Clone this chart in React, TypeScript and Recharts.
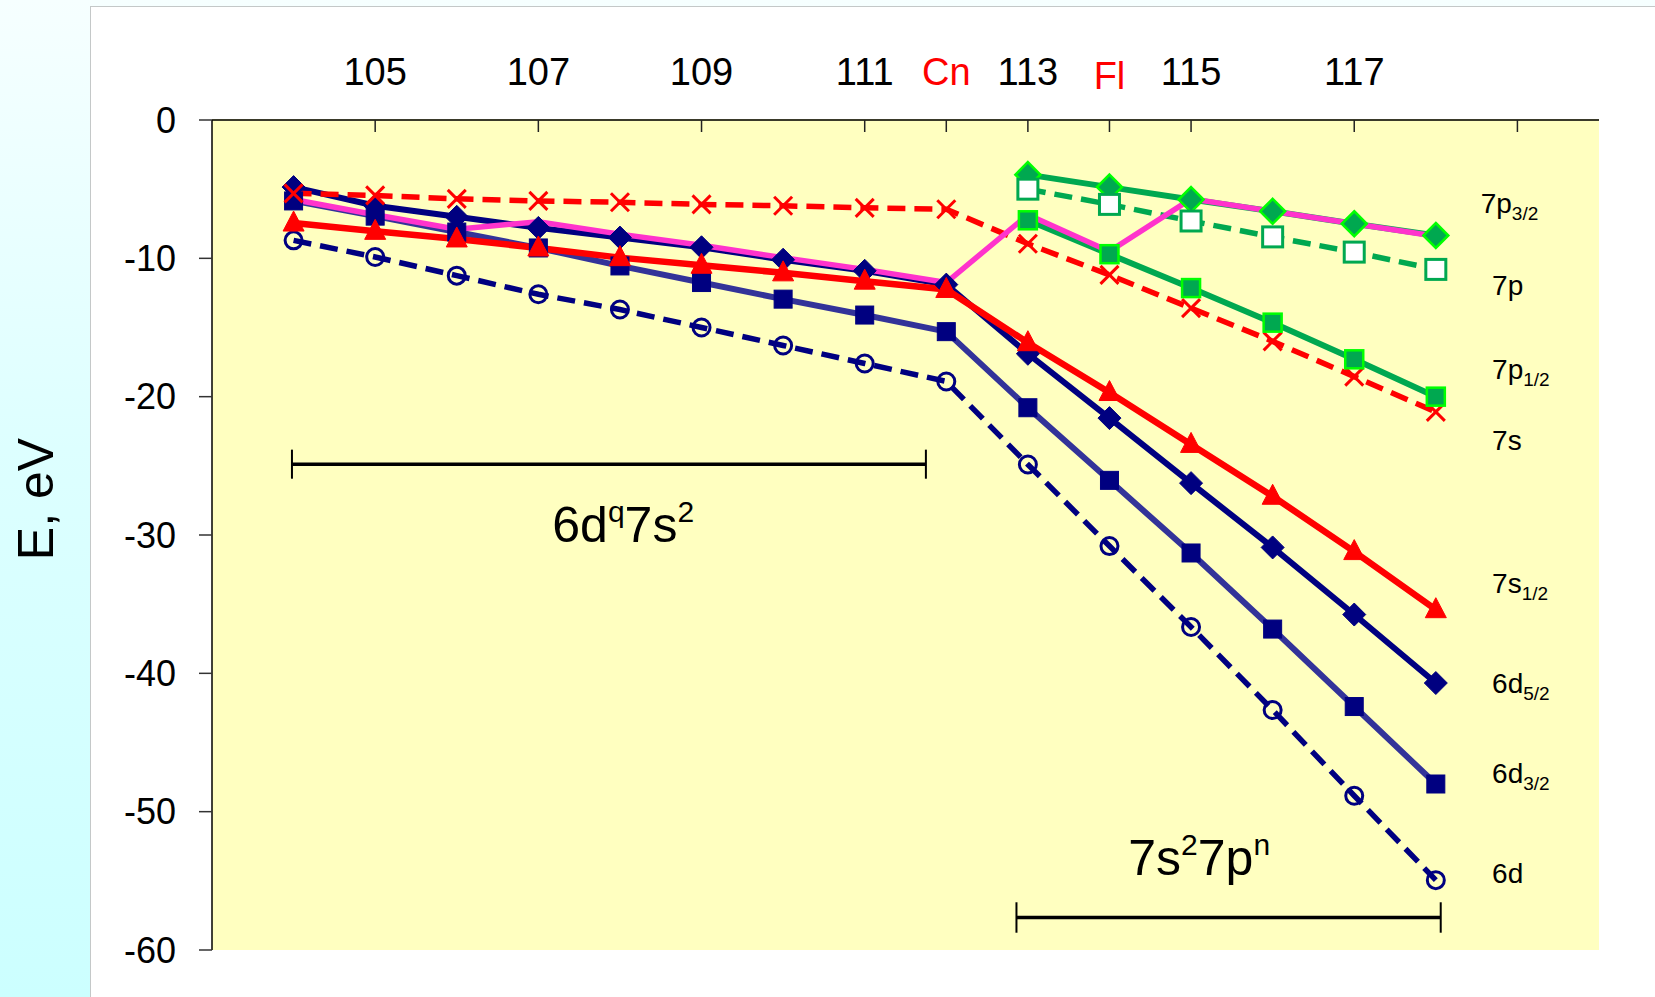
import React from 'react';
import { LineChart, Line, XAxis, YAxis, CartesianGrid, ReferenceLine, ReferenceDot } from 'recharts';

const FONT = '"Liberation Sans", Arial, Helvetica, sans-serif';

// Atomic number Z (categories)
const elementZ = [104, 105, 106, 107, 108, 109, 110, 111, 112, 113, 114, 115, 116, 117, 118];

// Orbital energies, eV
const e6d = [-8.7, -9.9, -11.25, -12.6, -13.7, -15.0, -16.3, -17.6, -18.9, -24.9, -30.8, -36.65, -42.65, -48.85, -54.95];
const e6d32 = [-5.85, -6.95, -8.1, -9.25, -10.55, -11.75, -12.95, -14.1, -15.3, -20.8, -26.05, -31.3, -36.8, -42.4, -48.0];
const e6d52 = [-4.85, -6.2, -7.0, -7.8, -8.5, -9.2, -10.1, -10.9, -11.9, -16.9, -21.55, -26.25, -30.9, -35.75, -40.7];
const e7s12 = [-7.45, -8.05, -8.6, -9.25, -9.95, -10.5, -11.05, -11.65, -12.25, -16.1, -19.7, -23.45, -27.2, -31.2, -35.4];
const e7s = [-5.3, -5.45, -5.7, -5.85, -5.95, -6.1, -6.2, -6.35, -6.45, -8.95, -11.2, -13.6, -16.0, -18.55, -21.1];
const e7p12 = [null, null, null, null, null, null, null, null, null, -7.25, -9.7, -12.15, -14.65, -17.3, -20.0];
const e7p = [null, null, null, null, null, null, null, null, null, -5.0, -6.1, -7.3, -8.45, -9.55, -10.8];
const e7p32 = [null, null, null, null, null, null, null, null, null, -3.95, -4.85, -5.75, -6.6, -7.5, -8.35];
const eValence = [-5.75, -6.85, -7.9, -7.35, -8.25, -9.05, -9.95, -10.8, -11.75, -6.85, -9.5, -5.7, -6.6, -7.5, -8.4];

// Axis ticks
const xTicks = [105, 107, 109, 111, 112, 113, 114, 115, 117, 119];
const xTickLabels = ['105', '107', '109', '111', 'Cn', '113', 'Fl', '115', '117', ''];
const xRedLabels = ['Cn', 'Fl'];
const yTicks = [0, -10, -20, -30, -40, -50, -60];

// Series labels at right side
const seriesLabelMain = ['7p', '7p', '7p', '7s', '7s', '6d', '6d', '6d'];
const seriesLabelSub = ['3/2', '', '1/2', '', '1/2', '5/2', '3/2', ''];
const seriesLabelX = [118.55, 118.69, 118.69, 118.69, 118.69, 118.69, 118.69, 118.69];
const seriesLabelY = [-6.7, -12.65, -18.73, -23.84, -34.2, -41.43, -47.9, -55.17];

// Configuration brackets
const bracket1 = { x1: 103.98, x2: 111.75, y: -24.88, tick: 1.05, textX: 108.04, textY: -30.47 };
const bracket2 = { x1: 112.86, x2: 118.06, y: -57.65, tick: 1.1, textX: 115.1, textY: -54.6 };

const rows = elementZ.map((z, i) => ({
  z,
  e6d: e6d[i],
  e6d32: e6d32[i],
  e6d52: e6d52[i],
  e7s12: e7s12[i],
  e7s: e7s[i],
  e7p12: e7p12[i],
  e7p: e7p[i],
  e7p32: e7p32[i],
  eValence: eValence[i],
}));

const PLOT_TOP = 120;

const NAVY = '#000080';
const INDIGO = '#333399';
const RED = '#FF0000';
const GREEN = '#00A850';
const LIME = '#00FF00';
const MAGENTA = '#FF33CC';

const valid = (p: any) =>
  p && typeof p.cx === 'number' && typeof p.cy === 'number' && isFinite(p.cx) && isFinite(p.cy) && p.value != null;

const makeDot = (kind: string, o: any) => (p: any) => {
  const k = `dot-${kind}-${o.id}-${p.index}`;
  if (!valid(p)) return <g key={k} />;
  const { cx, cy } = p;
  if (kind === 'circle') {
    return <circle key={k} cx={cx} cy={cy} r={o.r} fill={o.fill} stroke={o.stroke} strokeWidth={o.sw} />;
  }
  if (kind === 'square') {
    const s = o.size;
    return <rect key={k} x={cx - s / 2} y={cy - s / 2} width={s} height={s} fill={o.fill} stroke={o.stroke} strokeWidth={o.sw} />;
  }
  if (kind === 'diamond') {
    const h = o.half;
    return (
      <path key={k} d={`M${cx},${cy - h}L${cx + h},${cy}L${cx},${cy + h}L${cx - h},${cy}Z`} fill={o.fill} stroke={o.stroke} strokeWidth={o.sw} />
    );
  }
  if (kind === 'triangle') {
    const w = o.w;
    const h = o.h;
    return (
      <path key={k} d={`M${cx},${cy - h * 0.6}L${cx + w / 2},${cy + h * 0.4}L${cx - w / 2},${cy + h * 0.4}Z`} fill={o.fill} stroke={o.stroke} strokeWidth={o.sw} />
    );
  }
  if (kind === 'cross') {
    const s = o.half;
    return (
      <g key={k}>
        <line x1={cx - s} y1={cy - s} x2={cx + s} y2={cy + s} stroke={o.stroke} strokeWidth={o.sw} />
        <line x1={cx - s} y1={cy + s} x2={cx + s} y2={cy - s} stroke={o.stroke} strokeWidth={o.sw} />
      </g>
    );
  }
  return <g key={k} />;
};

const TopTick = (props: any) => {
  const { x, payload } = props;
  const idx = xTicks.indexOf(payload.value);
  const lab = idx >= 0 ? xTickLabels[idx] : '';
  const red = xRedLabels.includes(lab);
  return (
    <g>
      <line x1={x} x2={x} y1={PLOT_TOP} y2={PLOT_TOP + 12} stroke="#222" strokeWidth={1.5} />
      <text
        x={x}
        y={PLOT_TOP - 35 + (lab === 'Fl' ? 4 : 0)}
        textAnchor="middle"
        fontSize={38}
        fontFamily={FONT}
        fill={red ? RED : '#000'}
      >
        {lab}
      </text>
    </g>
  );
};

const seriesLabelShape = (i: number) => (p: any) => (
  <text key={`sl-${i}`} x={p.cx} y={p.cy} fontSize={28} fontFamily={FONT} fill="#000">
    {seriesLabelMain[i]}
    {seriesLabelSub[i] ? (
      <tspan fontSize={19} dy={7}>
        {seriesLabelSub[i]}
      </tspan>
    ) : null}
  </text>
);

const configText = (base1: string, sup1: string, base2: string, sup2: string) => (p: any) => (
  <text x={p.cx} y={p.cy} fontSize={50} fontFamily={FONT} fill="#000" textAnchor="middle">
    {base1}
    <tspan fontSize={30} dy={-20}>
      {sup1}
    </tspan>
    <tspan dy={20}>{base2}</tspan>
    <tspan fontSize={30} dy={-20}>
      {sup2}
    </tspan>
  </text>
);

export default function App() {
  return (
    <div
      style={{
        position: 'absolute',
        left: 0,
        top: 0,
        width: 1655,
        height: 997,
        overflow: 'hidden',
        background: 'linear-gradient(to bottom, #F6FFFF 0%, #DDFFFF 45%, #CCFFFF 100%)',
      }}
    >
      <div
        style={{
          position: 'absolute',
          left: 90,
          top: 6,
          width: 1565,
          height: 991,
          background: '#FFFFFF',
          borderLeft: '1px solid #C4C8C8',
          borderTop: '1px solid #C4C8C8',
        }}
      />
      <svg style={{ position: 'absolute', left: 0, top: 0 }} width={90} height={997}>
        <text
          x={53}
          y={499}
          transform="rotate(-90 53 499)"
          textAnchor="middle"
          fontSize={50}
          fontFamily={FONT}
          fill="#000"
        >
          E, eV
        </text>
      </svg>
      <div style={{ position: 'absolute', left: 0, top: 0 }}>
        <LineChart width={1655} height={997} data={rows} margin={{ top: 40, right: 56, bottom: 47, left: 92 }}>
          <CartesianGrid horizontal={false} vertical={false} fill="#FFFFC0" fillOpacity={1} stroke="none" />
          <XAxis
            dataKey="z"
            type="number"
            orientation="top"
            domain={[103, 120]}
            ticks={xTicks}
            interval={0}
            height={80}
            tickLine={false}
            axisLine={{ stroke: '#3A3A2A', strokeWidth: 2 }}
            tick={<TopTick />}
            allowDataOverflow
          />
          <YAxis
            type="number"
            domain={[-60, 0]}
            ticks={yTicks}
            interval={0}
            width={120}
            tickSize={13}
            tickMargin={23}
            axisLine={{ stroke: '#000', strokeWidth: 1.5 }}
            tickLine={{ stroke: '#333', strokeWidth: 1.5 }}
            tick={{ fontSize: 36, fill: '#000', fontFamily: FONT }}
            allowDataOverflow
          />

          <ReferenceLine segment={[{ x: bracket1.x1, y: bracket1.y }, { x: bracket1.x2, y: bracket1.y }]} stroke="#000" strokeWidth={3.5} />
          <ReferenceLine segment={[{ x: bracket1.x1, y: bracket1.y + bracket1.tick }, { x: bracket1.x1, y: bracket1.y - bracket1.tick }]} stroke="#000" strokeWidth={2} />
          <ReferenceLine segment={[{ x: bracket1.x2, y: bracket1.y + bracket1.tick }, { x: bracket1.x2, y: bracket1.y - bracket1.tick }]} stroke="#000" strokeWidth={2} />
          <ReferenceLine segment={[{ x: bracket2.x1, y: bracket2.y }, { x: bracket2.x2, y: bracket2.y }]} stroke="#000" strokeWidth={3.5} />
          <ReferenceLine segment={[{ x: bracket2.x1, y: bracket2.y + bracket2.tick }, { x: bracket2.x1, y: bracket2.y - bracket2.tick }]} stroke="#000" strokeWidth={2} />
          <ReferenceLine segment={[{ x: bracket2.x2, y: bracket2.y + bracket2.tick }, { x: bracket2.x2, y: bracket2.y - bracket2.tick }]} stroke="#000" strokeWidth={2} />

          <Line
            dataKey="e6d"
            type="linear"
            stroke={NAVY}
            strokeWidth={5.5}
            strokeDasharray="18 9"
            dot={makeDot('circle', { id: 'a', r: 8.5, fill: 'none', stroke: NAVY, sw: 3 })}
            activeDot={false}
            isAnimationActive={false}
          />
          <Line
            dataKey="e6d32"
            type="linear"
            stroke={INDIGO}
            strokeWidth={6}
            dot={makeDot('square', { id: 'b', size: 18, fill: NAVY, stroke: NAVY, sw: 1 })}
            activeDot={false}
            isAnimationActive={false}
          />
          <Line
            dataKey="e6d52"
            type="linear"
            stroke={NAVY}
            strokeWidth={6}
            dot={makeDot('diamond', { id: 'c', half: 11.5, fill: NAVY, stroke: NAVY, sw: 1 })}
            activeDot={false}
            isAnimationActive={false}
          />
          <Line
            dataKey="e7s12"
            type="linear"
            stroke={RED}
            strokeWidth={6.5}
            dot={makeDot('triangle', { id: 'd', w: 21, h: 20, fill: RED, stroke: RED, sw: 1 })}
            activeDot={false}
            isAnimationActive={false}
          />
          <Line
            dataKey="e7s"
            type="linear"
            stroke={RED}
            strokeWidth={5.5}
            strokeDasharray="18 9"
            dot={makeDot('cross', { id: 'e', half: 9, stroke: RED, sw: 3 })}
            activeDot={false}
            isAnimationActive={false}
          />
          <Line
            dataKey="e7p32"
            type="linear"
            stroke={GREEN}
            strokeWidth={6}
            dot={makeDot('diamond', { id: 'f', half: 12.5, fill: GREEN, stroke: LIME, sw: 2.5 })}
            activeDot={false}
            isAnimationActive={false}
          />
          <Line
            dataKey="e7p"
            type="linear"
            stroke={GREEN}
            strokeWidth={5.5}
            strokeDasharray="18 9"
            dot={makeDot('square', { id: 'g', size: 20, fill: '#FFFFFF', stroke: GREEN, sw: 3 })}
            activeDot={false}
            isAnimationActive={false}
          />
          <Line
            dataKey="e7p12"
            type="linear"
            stroke={GREEN}
            strokeWidth={6}
            dot={makeDot('square', { id: 'h', size: 18, fill: GREEN, stroke: LIME, sw: 2.5 })}
            activeDot={false}
            isAnimationActive={false}
          />
          <Line
            dataKey="eValence"
            type="linear"
            stroke={MAGENTA}
            strokeWidth={5.5}
            dot={false}
            activeDot={false}
            isAnimationActive={false}
          />

          {seriesLabelMain.map((_, i) => (
            <ReferenceDot
              key={`lab-${i}`}
              x={seriesLabelX[i]}
              y={seriesLabelY[i]}
              r={1}
              fill="none"
              stroke="none"
              shape={seriesLabelShape(i)}
            />
          ))}
          <ReferenceDot x={bracket1.textX} y={bracket1.textY} r={1} shape={configText('6d', 'q', '7s', '2')} />
          <ReferenceDot x={bracket2.textX} y={bracket2.textY} r={1} shape={configText('7s', '2', '7p', 'n')} />
        </LineChart>
      </div>
    </div>
  );
}
